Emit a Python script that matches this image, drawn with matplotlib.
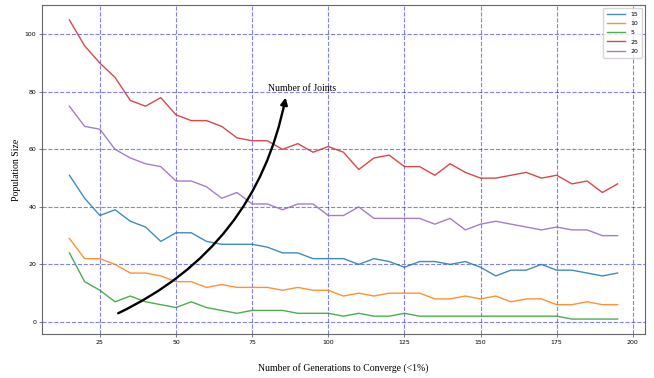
import matplotlib
matplotlib.use('Agg')
import matplotlib.pyplot as plt
import numpy as np

# generations to converge (x) for each population size
gens = list(range(15, 200, 5))

# population size per number of joints
pop_15 = [51, 43, 37, 39, 35, 33, 28, 31, 31, 28, 27, 27, 27, 26, 24, 24, 22, 22, 22,
          20, 22, 21, 19, 21, 21, 20, 21, 19, 16, 18, 18, 20, 18, 18, 17, 16, 17]
pop_10 = [29, 22, 22, 20, 17, 17, 16, 14, 14, 12, 13, 12, 12, 12, 11, 12, 11, 11, 9,
          10, 9, 10, 10, 10, 8, 8, 9, 8, 9, 7, 8, 8, 6, 6, 7, 6, 6]
pop_5 = [24, 14, 11, 7, 9, 7, 6, 5, 7, 5, 4, 3, 4, 4, 4, 3, 3, 3, 2,
         3, 2, 2, 3, 2, 2, 2, 2, 2, 2, 2, 2, 2, 2, 1, 1, 1, 1]
pop_25 = [105, 96, 90, 85, 77, 75, 78, 72, 70, 70, 68, 64, 63, 63, 60, 62, 59, 61, 59,
          53, 57, 58, 54, 54, 51, 55, 52, 50, 50, 51, 52, 50, 51, 48, 49, 45, 48]
pop_20 = [75, 68, 67, 60, 57, 55, 54, 49, 49, 47, 43, 45, 41, 41, 39, 41, 41, 37, 37,
          40, 36, 36, 36, 36, 34, 36, 32, 34, 35, 34, 33, 32, 33, 32, 32, 30, 30]

series = [('15', pop_15), ('10', pop_10), ('5', pop_5), ('25', pop_25), ('20', pop_20)]

fig = plt.figure(figsize=(6.54, 3.78), dpi=100)
ax = fig.add_axes([42/654, 1 - 334/378, (645 - 42)/654, (334 - 5)/378])

for lbl, vals in series:
    ax.plot(gens, vals, label=lbl, lw=1.0, alpha=0.85)

ax.grid(True, color='blue', linestyle='--', alpha=0.5, lw=0.8)
for s in ax.spines.values():
    s.set_color('#666666')
ax.tick_params(labelsize=4.5, length=2, width=0.6, color='#666666', pad=2)
ax.set_xticks([25, 50, 75, 100, 125, 150, 175, 200])

serif = 'Liberation Serif'
ax.set_xlabel('Number of Generations to Converge (<1%)', family=serif, fontsize=7, labelpad=13)
ax.set_ylabel('Population Size', family=serif, fontsize=7, labelpad=3)

ax.annotate('', xy=(86, 78), xytext=(31, 3),
            arrowprops=dict(arrowstyle='-|>', color='black', lw=1.7, mutation_scale=10,
                            connectionstyle='arc3,rad=0.25', shrinkA=0, shrinkB=0))
ax.text(80.3, 81, 'Number of Joints', family=serif, fontsize=7, ha='left', va='center')

ax.legend(loc='upper right', fontsize=4.5, handlelength=3, borderpad=0.6, labelspacing=0.6)

fig.savefig('out.png', dpi=100)
